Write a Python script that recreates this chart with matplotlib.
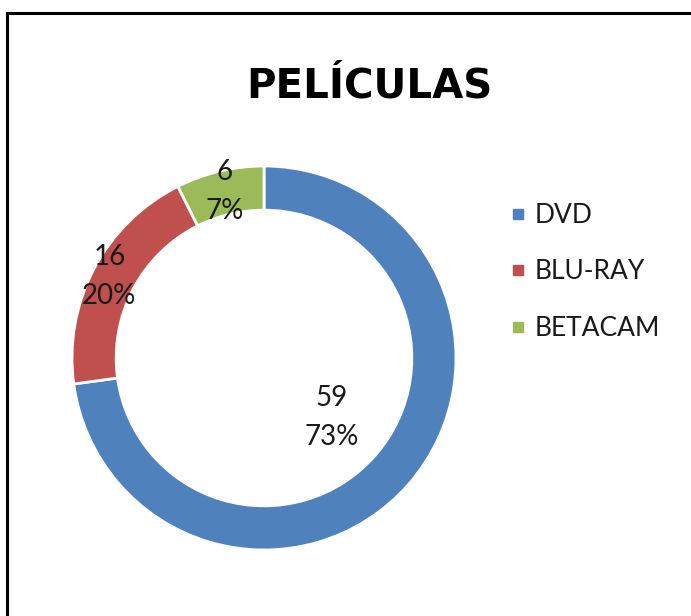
import numpy as np
import matplotlib
matplotlib.use("Agg")
import matplotlib.pyplot as plt
from matplotlib.patches import Rectangle
from matplotlib.lines import Line2D

labels = ["DVD", "BLU-RAY", "BETACAM"]
counts = [59, 16, 6]
colors = ["#4F81BD", "#C0504D", "#9BBB59"]
title = "PELÍCULAS"

# radial position of each data label (fraction of outer radius)
label_r = [0.47, 0.91, 0.89]

plt.rcParams["font.family"] = ["Lato", "DejaVu Sans"]

W, H = 691, 616
fig = plt.figure(figsize=(W / 100, H / 100), dpi=100)

# outer frame
fig.patches.append(Rectangle((7 / W, -0.05), 1.1, (H - 13) / H + 0.05,
                             transform=fig.transFigure, fill=False,
                             edgecolor="black", linewidth=2.2, clip_on=False))

cx, cy, R = 264, 358, 192
ax = fig.add_axes([(cx - R) / W, (H - cy - R) / H, 2 * R / W, 2 * R / H])
wedges, _ = ax.pie(counts, colors=colors, startangle=90, counterclock=False,
                   radius=1, wedgeprops=dict(width=0.23, edgecolor="white", linewidth=2))
ax.set_xlim(-1, 1)
ax.set_ylim(-1, 1)
ax.set_aspect("equal")
ax.axis("off")

total = sum(counts)
for w, n, r in zip(wedges, counts, label_r):
    ang = np.deg2rad((w.theta1 + w.theta2) / 2)
    pct = round(100 * n / total)
    ax.text(r * np.cos(ang), r * np.sin(ang), f"{n}\n{pct}%", ha="center", va="center",
            fontsize=20, color="#1a1a1a", linespacing=1.6)

fig.text(369 / W, 1 - 87 / H, title, ha="center", va="center", family="DejaVu Sans",
         fontsize=29, fontweight="bold", color="black")

handles = [Line2D([], [], marker="s", linestyle="none", markersize=7,
                  markerfacecolor=c, markeredgecolor=c) for c in colors]
fig.legend(handles, labels, loc="upper left", bbox_to_anchor=(481 / W, 1 - 179 / H),
           frameon=False, fontsize=19, labelspacing=1.2, handletextpad=0.15,
           handlelength=1.0, labelcolor="#1a1a1a")

fig.savefig("out.png", dpi=100)
